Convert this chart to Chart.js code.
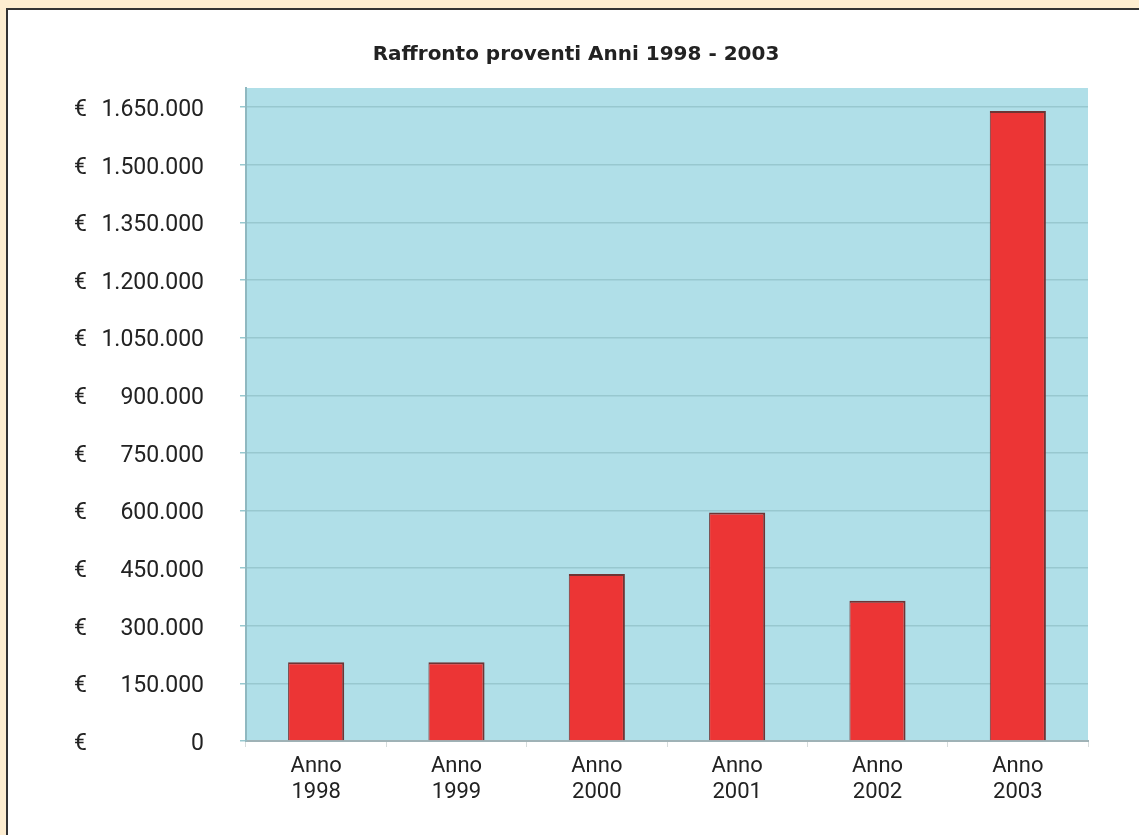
<!DOCTYPE html>
<html>
<head>
<meta charset="utf-8">
<script src="https://cdn.jsdelivr.net/npm/chart.js@4/dist/chart.umd.min.js"></script>
<style>
  html, body { margin: 0; padding: 0; }
  body { width: 1139px; height: 835px; background: #fdedd0; position: relative; overflow: hidden; }
  #panel { position: absolute; left: 6px; top: 8px; width: 1140px; height: 840px; background: #fff; border: 2px solid #333; }
  #chart { position: absolute; left: 0; top: 0; }
</style>
</head>
<body>
<div id="panel"></div>
<canvas id="chart" width="1139" height="835"></canvas>
<script>
const years = ["1998", "1999", "2000", "2001", "2002", "2003"];
const proventi = [205000, 205000, 435000, 595000, 365000, 1640000];
const yTicks = [0, 150000, 300000, 450000, 600000, 750000, 900000, 1050000, 1200000, 1350000, 1500000, 1650000];
const chartTitle = "Raffronto proventi Anni 1998 - 2003";

function formatIt(v) {
  return String(v).replace(/\B(?=(\d{3})+(?!\d))/g, ".");
}

// light blue plot background, title, and euro sign column on the left
const plotDecor = {
  id: "plotDecor",
  beforeDraw(chart) {
    const { ctx, chartArea: a } = chart;
    ctx.save();
    ctx.fillStyle = "#b0dfe8";
    ctx.fillRect(a.left, a.top, a.right - a.left, a.bottom - a.top);
    ctx.restore();
  },
  afterDraw(chart) {
    const { ctx } = chart;
    const y = chart.scales.y;
    ctx.save();
    ctx.fillStyle = "#222";
    ctx.textBaseline = "middle";
    ctx.font = "bold 20px 'DejaVu Sans'";
    ctx.textAlign = "center";
    ctx.fillText(chartTitle, 576, 55);
    ctx.font = "23px Roboto";
    ctx.textAlign = "left";
    y.ticks.forEach((t) => {
      ctx.fillText("€", 74, y.getPixelForValue(t.value) + 3);
    });
    ctx.restore();
  },
};

const ctx = document.getElementById("chart").getContext("2d");
new Chart(ctx, {
  type: "bar",
  data: {
    labels: years.map((y) => ["Anno", y]),
    datasets: [
      {
        data: proventi,
        backgroundColor: "#ec3535",
        borderColor: "#6e3434",
        borderWidth: { top: 2, left: 1, right: 2, bottom: 0 },
        borderSkipped: "bottom",
        barPercentage: 0.4,
        categoryPercentage: 1,
      },
    ],
  },
  options: {
    responsive: false,
    animation: false,
    layout: { padding: { left: 0, right: 51, top: 88, bottom: 0 } },
    plugins: {
      legend: { display: false },
      tooltip: { enabled: false },
      title: { display: false },
    },
    scales: {
      x: {
        grid: {
          offset: true,
          drawOnChartArea: false,
          drawTicks: true,
          tickLength: 6,
          color: "#d6dcdc",
        },
        border: { color: "#9fb2b6", width: 2 },
        ticks: {
          color: "#222",
          padding: 6,
          maxRotation: 0,
          font: { family: "Roboto", size: 22, lineHeight: 1.2 },
        },
        afterFit(scale) { scale.height = 94; },
      },
      y: {
        min: 0,
        max: 1700000,
        grid: {
          color: "#98c8cf",
          lineWidth: 1.5,
          tickLength: 6,
        },
        border: { color: "#8fb8c0", width: 2 },
        afterBuildTicks(scale) {
          scale.ticks = yTicks.map((v) => ({ value: v }));
        },
        ticks: {
          color: "#222",
          padding: 36,
          labelOffset: 3,
          font: { family: "Roboto", size: 23 },
          callback: (v) => formatIt(v),
        },
        afterFit(scale) { scale.width = 246; },
      },
    },
  },
  plugins: [plotDecor],
});
</script>
</body>
</html>
